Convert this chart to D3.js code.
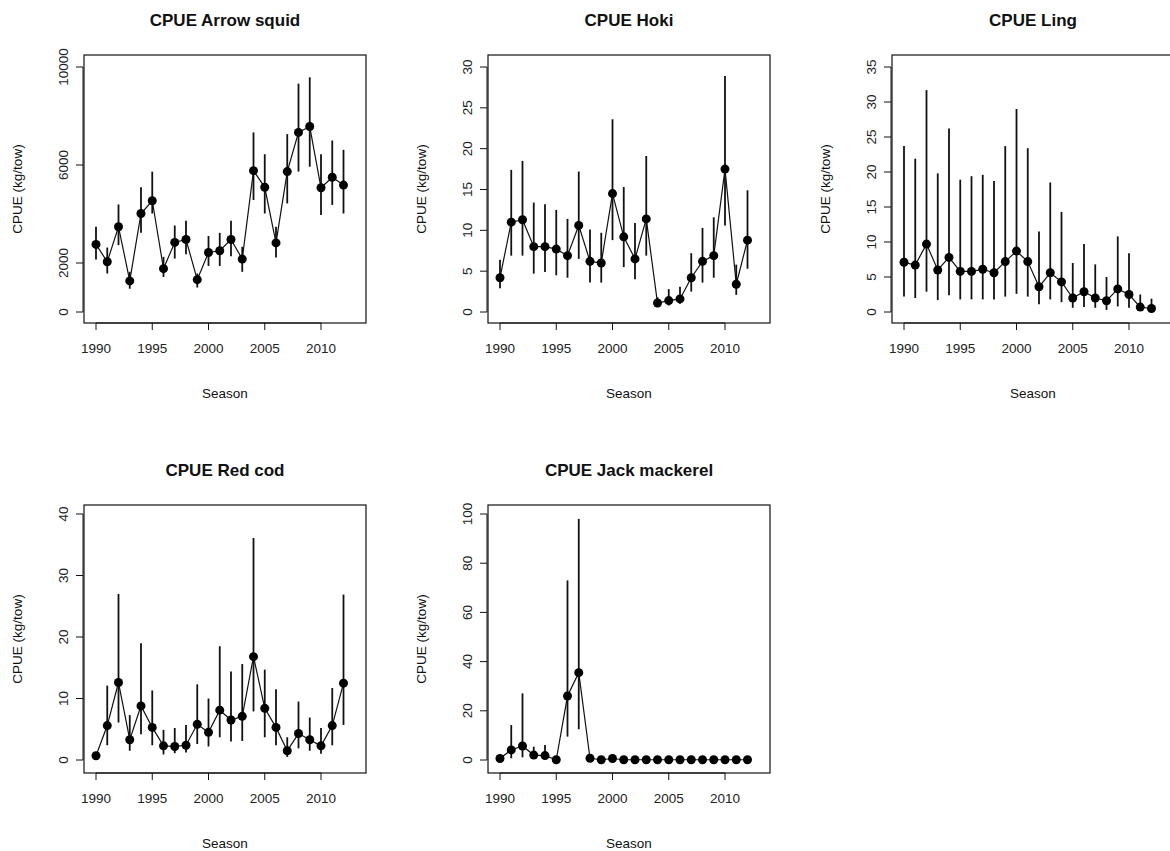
<!DOCTYPE html>
<html>
<head>
<meta charset="utf-8">
<script src="https://cdn.jsdelivr.net/npm/d3@7"></script>
<style>
  body { margin: 0; background: white; }
  text { font-family: "Liberation Sans", Arial, sans-serif; }
</style>
</head>
<body>
<svg id="chart" width="1170" height="851"></svg>
<script>
// seasons shared by all panels
var seasons = d3.range(1990, 2013);
var xTicks = [1990, 1995, 2000, 2005, 2010];

var titles = ['CPUE Arrow squid', 'CPUE Hoki', 'CPUE Ling', 'CPUE Red cod', 'CPUE Jack mackerel'];

var arrowMean = [2760, 2050, 3480, 1270, 4020, 4540, 1770, 2840, 2960, 1320, 2430, 2500, 2960, 2160, 5770, 5090, 2820, 5730, 7330, 7570, 5070, 5500, 5180];
var arrowHi   = [3480, 2630, 4390, 1640, 5090, 5730, 2250, 3530, 3720, 1570, 3100, 3230, 3720, 2660, 7330, 6440, 3480, 7260, 9320, 9580, 6440, 7000, 6620];
var arrowLo   = [2140, 1570, 2730, 950, 3230, 4020, 1430, 2180, 2360, 1000, 1880, 1880, 2280, 1640, 4570, 4020, 2220, 4430, 5730, 5930, 3960, 4370, 4020];

var hokiMean = [4.2, 11.0, 11.3, 8.0, 8.0, 7.7, 6.9, 10.6, 6.2, 6.0, 14.5, 9.2, 6.5, 11.4, 1.1, 1.4, 1.6, 4.2, 6.2, 6.9, 17.5, 3.4, 8.8];
var hokiHi   = [6.4, 17.4, 18.5, 13.4, 13.2, 12.5, 11.4, 17.2, 10.1, 9.7, 23.6, 15.3, 10.9, 19.1, 1.8, 2.8, 3.1, 7.2, 10.3, 11.6, 28.9, 5.8, 14.9];
var hokiLo   = [2.9, 6.9, 6.9, 4.7, 4.9, 4.5, 4.2, 6.5, 3.6, 3.6, 8.8, 5.5, 4.0, 6.9, 0.6, 0.8, 1.0, 2.5, 3.6, 4.2, 10.6, 2.1, 5.3];

var lingMean = [7.1, 6.7, 9.7, 6.0, 7.8, 5.8, 5.8, 6.1, 5.6, 7.2, 8.7, 7.2, 3.6, 5.6, 4.3, 2.0, 2.9, 2.0, 1.6, 3.3, 2.5, 0.7, 0.5];
var lingHi   = [23.7, 21.9, 31.7, 19.8, 26.2, 18.9, 19.4, 19.6, 18.7, 23.7, 29.0, 23.4, 11.5, 18.5, 14.3, 7.0, 9.7, 6.8, 5.0, 10.8, 8.4, 2.5, 1.9];
var lingLo   = [2.2, 2.0, 2.9, 1.7, 2.4, 1.8, 1.8, 1.8, 1.8, 2.2, 2.6, 2.2, 1.1, 1.8, 1.4, 0.6, 0.7, 0.6, 0.3, 0.8, 0.6, 0.2, 0.1];

var redcodMean = [0.7, 5.6, 12.6, 3.3, 8.8, 5.3, 2.3, 2.2, 2.4, 5.8, 4.5, 8.1, 6.5, 7.1, 16.8, 8.4, 5.3, 1.5, 4.3, 3.3, 2.3, 5.6, 12.5];
var redcodHi   = [1.0, 12.1, 27.0, 7.3, 19.0, 11.3, 4.9, 5.2, 5.7, 12.3, 10.0, 18.5, 14.4, 15.6, 36.1, 14.7, 11.5, 3.7, 9.5, 6.9, 5.2, 11.7, 26.9];
var redcodLo   = [0.4, 2.4, 6.1, 1.5, 4.2, 2.4, 0.9, 1.1, 1.2, 2.6, 2.2, 3.7, 3.0, 3.1, 7.9, 3.7, 2.4, 0.5, 1.9, 1.5, 1.0, 2.4, 5.7];

var jackMean = [0.6, 4.1, 5.7, 2.0, 1.8, 0.1, 26.0, 35.5, 0.7, 0.1, 0.6, 0.1, 0.1, 0.1, 0.1, 0.1, 0.1, 0.1, 0.1, 0.1, 0.1, 0.1, 0.1];
var jackHi   = [1.5, 14.2, 27.1, 5.4, 6.1, 0.3, 73.0, 98.0, 1.5, 0.3, 1.2, 0.3, 0.2, 0.2, 0.2, 0.2, 0.2, 0.2, 0.2, 0.2, 0.2, 0.2, 0.2];
var jackLo   = [0.1, 0.7, 1.1, 0.7, 0.7, 0.0, 9.5, 12.5, 0.2, 0.0, 0.2, 0.0, 0.0, 0.0, 0.0, 0.0, 0.0, 0.0, 0.0, 0.0, 0.0, 0.0, 0.0];

var yTickSets = [
  [0, 2000, 6000, 10000],
  [0, 5, 10, 15, 20, 25, 30],
  [0, 5, 10, 15, 20, 25, 30, 35],
  [0, 10, 20, 30, 40],
  [0, 20, 40, 60, 80, 100]
];
var yTops = [10000, 30, 35, 40, 100];

var panels = [
  {mean: arrowMean, hi: arrowHi, lo: arrowLo},
  {mean: hokiMean, hi: hokiHi, lo: hokiLo},
  {mean: lingMean, hi: lingHi, lo: lingLo},
  {mean: redcodMean, hi: redcodHi, lo: redcodLo},
  {mean: jackMean, hi: jackHi, lo: jackLo}
];

var svg = d3.select('#chart');
var boxW = 282, boxH = 268;
var colX = [84, 488, 892];
var rowY = [55, 505];

panels.forEach(function(p, i) {
  var row = Math.floor(i / 3);
  var left = colX[i % 3], top = rowY[row];
  var g = svg.append('g').attr('transform', 'translate(' + left + ',' + top + ')');

  var x = d3.scaleLinear().domain([1990, 2010]).range([12, 237]);
  var bottomPad = row === 0 ? 11 : 13, topPx = row === 0 ? 12 : 9;
  var y = d3.scaleLinear().domain([0, yTops[i]]).range([boxH - bottomPad, topPx]);

  g.append('rect').attr('width', boxW).attr('height', boxH)
    .attr('fill', 'none').attr('stroke', '#111').attr('stroke-width', 1.2);

  // x axis
  var xa = g.append('g').attr('transform', 'translate(0,' + boxH + ')');
  xa.append('line').attr('x1', x(1990)).attr('x2', x(2010)).attr('stroke', '#111');
  xTicks.forEach(function(t) {
    xa.append('line').attr('x1', x(t)).attr('x2', x(t)).attr('y1', 0).attr('y2', 7).attr('stroke', '#111');
    xa.append('text').attr('x', x(t)).attr('y', 30).attr('text-anchor', 'middle')
      .attr('font-size', 13.5).attr('fill', '#222').text(t);
  });

  // y axis
  var ticks = yTickSets[i];
  var ya = g.append('g');
  ya.append('line').attr('x1', -1).attr('x2', -1)
    .attr('y1', y(ticks[0])).attr('y2', y(ticks[ticks.length - 1])).attr('stroke', '#111');
  ticks.forEach(function(t) {
    ya.append('line').attr('x1', -8).attr('x2', -1).attr('y1', y(t)).attr('y2', y(t)).attr('stroke', '#111');
    ya.append('text').attr('transform', 'translate(-16,' + y(t) + ') rotate(-90)')
      .attr('text-anchor', 'middle').attr('font-size', 13.5).attr('fill', '#222').text(t);
  });

  // labels
  g.append('text').attr('x', boxW / 2).attr('y', -29).attr('text-anchor', 'middle')
    .attr('font-size', 17).attr('font-weight', 'bold').attr('fill', '#111').text(titles[i]);
  g.append('text').attr('x', boxW / 2).attr('y', boxH + 75).attr('text-anchor', 'middle')
    .attr('font-size', 13.5).attr('fill', '#111').text('Season');
  g.append('text').attr('transform', 'translate(-62,' + boxH / 2 + ') rotate(-90)')
    .attr('text-anchor', 'middle').attr('font-size', 13.5).attr('fill', '#111').text('CPUE (kg/tow)');

  // error bars
  g.selectAll('line.err').data(seasons).enter().append('line').attr('class', 'err')
    .attr('x1', function(d) { return x(d); }).attr('x2', function(d) { return x(d); })
    .attr('y1', function(d, j) { return y(p.hi[j]); }).attr('y2', function(d, j) { return y(p.lo[j]); })
    .attr('stroke', '#111').attr('stroke-width', 1.8);

  var line = d3.line().x(function(d) { return x(d); }).y(function(d, j) { return y(p.mean[j]); });
  g.append('path').datum(seasons).attr('d', line).attr('fill', 'none').attr('stroke', '#111').attr('stroke-width', 1.2);

  g.selectAll('circle').data(seasons).enter().append('circle')
    .attr('cx', function(d) { return x(d); }).attr('cy', function(d, j) { return y(p.mean[j]); })
    .attr('r', 4.5).attr('fill', '#000');
});
</script>
</body>
</html>
